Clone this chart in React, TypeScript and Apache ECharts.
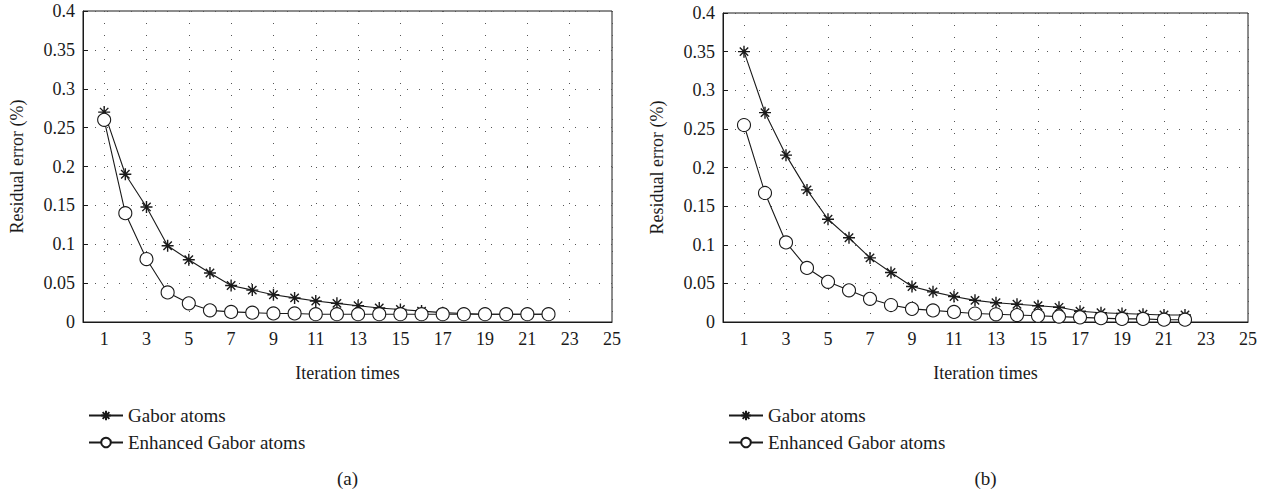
import React, { useEffect, useRef } from "react";
import * as echarts from "echarts";

const iterations = [1, 2, 3, 4, 5, 6, 7, 8, 9, 10, 11, 12, 13, 14, 15, 16, 17, 18, 19, 20, 21, 22];

const gaborA = [0.27, 0.19, 0.148, 0.098, 0.08, 0.063, 0.047, 0.041, 0.035, 0.031, 0.027, 0.024, 0.021, 0.018, 0.016, 0.014, 0.012, 0.011, 0.01, 0.01, 0.01, 0.01];
const enhancedA = [0.26, 0.14, 0.081, 0.038, 0.024, 0.015, 0.013, 0.012, 0.011, 0.011, 0.01, 0.01, 0.01, 0.01, 0.01, 0.01, 0.01, 0.01, 0.01, 0.01, 0.01, 0.01];

const gaborB = [0.35, 0.271, 0.216, 0.171, 0.133, 0.109, 0.083, 0.064, 0.046, 0.039, 0.033, 0.028, 0.025, 0.023, 0.021, 0.019, 0.014, 0.012, 0.011, 0.01, 0.009, 0.009];
const enhancedB = [0.255, 0.167, 0.103, 0.07, 0.052, 0.041, 0.03, 0.022, 0.017, 0.015, 0.013, 0.011, 0.01, 0.009, 0.008, 0.007, 0.006, 0.005, 0.004, 0.004, 0.003, 0.003];

const seriesNames = ["Gabor atoms", "Enhanced Gabor atoms"];
const panelLabels = ["(a)", "(b)"];
const xTitle = "Iteration times";
const yTitle = "Residual error (%)";

const FONT = "Liberation Serif, Times New Roman, serif";
const INK = "#1a1a1a";
const STAR = "path://M6,0 L6,12 M0,6 L12,6 M1.8,1.8 L10.2,10.2 M1.8,10.2 L10.2,1.8";

const pairs = (ys: number[]) => iterations.map((x, i) => [x, ys[i]]);

export default function App() {
  const ref = useRef<HTMLDivElement>(null);
  useEffect(() => {
    if (!ref.current) return;
    const chart = echarts.init(ref.current, null, { renderer: "svg" });
    const grids = [
      { left: 83, top: 11, width: 529, height: 311 },
      { left: 723, top: 13, width: 525, height: 309 },
    ];
    const xAxes = grids.map((_, gi) => ({
      type: "value",
      gridIndex: gi,
      min: 0,
      max: 25,
      interval: 1,
      name: xTitle,
      nameLocation: "middle",
      nameGap: 42,
      nameTextStyle: { fontFamily: FONT, fontSize: 18, color: INK },
      axisLine: { show: true, lineStyle: { color: INK, width: 1 } },
      axisTick: { show: false },
      axisLabel: {
        fontFamily: FONT,
        fontSize: 18,
        color: INK,
        margin: 8,
        formatter: (v: number) => (Math.round(v) % 2 === 1 ? String(Math.round(v)) : ""),
      },
      splitLine: {
        show: true,
        showMinLine: true,
        showMaxLine: true,
        lineStyle: { color: ["rgba(0,0,0,0)", "#555"], type: [1, 11], width: 1 },
      },
    }));
    const yAxes = grids.map((_, gi) => ({
      type: "value",
      gridIndex: gi,
      min: 0,
      max: 0.4,
      interval: 0.05,
      name: yTitle,
      nameLocation: "middle",
      nameRotate: 90,
      nameGap: 57,
      nameTextStyle: { fontFamily: FONT, fontSize: 18, color: INK },
      axisLine: { show: true, lineStyle: { color: INK, width: 1 } },
      axisTick: { show: true, inside: true, length: 5, lineStyle: { color: INK } },
      axisLabel: {
        fontFamily: FONT,
        fontSize: 18,
        color: INK,
        margin: 8,
        formatter: (v: number) => String(Number(v.toFixed(2))),
      },
      splitLine: { show: true, lineStyle: { color: "#555", type: [1, 11], width: 1 } },
    }));
    const mk = (name: string, data: number[], gi: number) => {
      const isStar = name === seriesNames[0];
      return {
        type: "line",
        name,
        xAxisIndex: gi,
        yAxisIndex: gi,
        data: pairs(data),
        symbol: isStar ? STAR : "circle",
        symbolSize: isStar ? 12 : 13,
        symbolKeepAspect: true,
        showAllSymbol: true,
        lineStyle: { color: INK, width: 1.1 },
        itemStyle: isStar
          ? { color: INK, borderColor: INK, borderWidth: 1.4 }
          : { color: "#ffffff", borderColor: INK, borderWidth: 1.1 },
        z: isStar ? 3 : 4,
      };
    };
    const legends = grids.map((g) => ({
      orient: "vertical",
      left: g.left,
      top: 401,
      itemWidth: 34,
      itemHeight: 12,
      itemGap: 8,
      data: seriesNames,
      selectedMode: false,
      textStyle: { fontFamily: FONT, fontSize: 19, color: INK },
    }));
    chart.setOption({
      animation: false,
      backgroundColor: "#fff",
      grid: grids.map((g) => ({ ...g, show: true, borderColor: INK, borderWidth: 1, backgroundColor: "transparent" })),
      xAxis: xAxes,
      yAxis: yAxes,
      legend: legends,
      series: [
        mk(seriesNames[0], gaborA, 0),
        mk(seriesNames[1], enhancedA, 0),
        mk(seriesNames[0], gaborB, 1),
        mk(seriesNames[1], enhancedB, 1),
      ],
      graphic: grids.map((g, i) => ({
        type: "text",
        x: g.left + g.width / 2,
        y: 478,
        style: {
          text: panelLabels[i],
          fontFamily: FONT,
          fontSize: 19,
          fill: INK,
          textAlign: "center",
          textVerticalAlign: "middle",
        },
      })),
    });
    return () => chart.dispose();
  }, []);
  return (
    <div
      ref={ref}
      style={{ position: "fixed", left: 0, top: 0, width: 1272, height: 492, background: "#fff" }}
    />
  );
}
